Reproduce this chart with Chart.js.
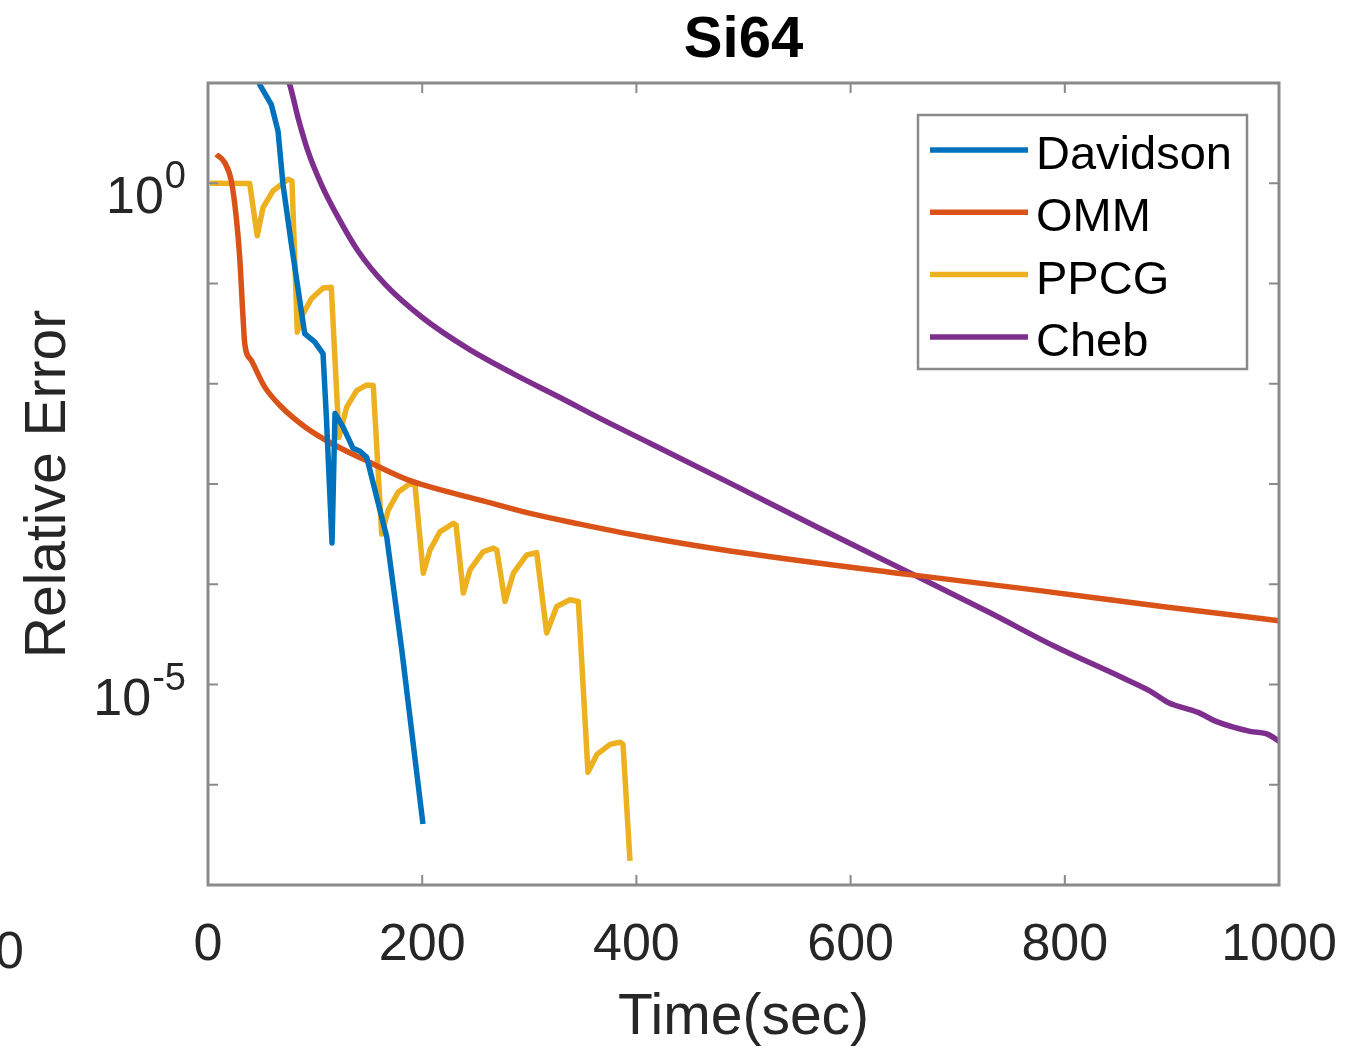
<!DOCTYPE html>
<html>
<head>
<meta charset="utf-8">
<script src="https://cdn.jsdelivr.net/npm/chart.js@4/dist/chart.umd.min.js"></script>
<style>
  html, body { margin: 0; padding: 0; background: #ffffff; }
  #wrap { width: 1358px; height: 1048px; position: relative; }
</style>
</head>
<body>
<div id="wrap"><canvas id="c" width="1358" height="1048"></canvas></div>
<script>
// ---------------- DATA ----------------
const chartTitle = 'Si64';
const xAxisTitle = 'Time(sec)';
const yAxisTitle = 'Relative Error';
const seriesNames = ['Davidson', 'OMM', 'PPCG', 'Cheb'];

const davidsonTime = [44.8, 48.3, 59.1, 65.4, 70.0, 77.8, 90.3, 99.6, 107.4, 110.5, 115.8, 118.6, 126.3, 135.4, 141.9, 148.2, 157.5, 166.9, 180.9, 200.7];
const davidsonErr  = [13.0, 9.64, 6.10, 3.31, 0.977, 0.248, 0.0316, 0.0261, 0.0200, 4.72e-3, 2.58e-4, 5.06e-3, 3.67e-3, 2.27e-3, 2.12e-3, 1.85e-3, 7.39e-4, 2.96e-4, 2.23e-5, 4.06e-7];

const ommTime = [7.7, 15.6, 21.8, 26.4, 29.6, 32.7, 34.3, 40.4, 52.9, 68.4, 90.3, 115.1, 146.3, 186.7, 207.3, 254.0, 300.7, 347.3, 403.4, 487.4, 657.3, 771.2, 892.6, 1000];
const ommErr  = [1.94, 1.607, 1.054, 0.456, 0.1825, 0.0462, 0.0251, 0.01714, 9.31e-3, 5.89e-3, 3.73e-3, 2.55e-3, 1.74e-3, 1.10e-3, 9.35e-4, 6.90e-4, 5.09e-4, 3.98e-4, 3.03e-4, 2.15e-4, 1.24e-4, 8.79e-5, 5.96e-5, 4.33e-5];

const ppcgTime = [1.9, 38.9, 46.0, 51.4, 60.7, 74.7, 78.4, 83.4, 88.7, 96.5, 107.4, 115.1, 122.3, 129.5, 138.8, 148.0, 154.3, 162.2, 168.3, 177.7, 188.6, 193.3, 201.0, 207.3, 216.6, 229.0, 231.6, 238.4, 244.6, 257.0, 266.4, 269.6, 277.3, 285.1, 297.6, 306.9, 316.2, 325.6, 338.0, 345.8, 354.8, 363.2, 375.4, 384.7, 387.5, 394.0];
const ppcgErr  = [1.0, 0.993, 0.299, 0.573, 0.838, 1.096, 1.054, 0.0328, 0.0499, 0.0703, 0.0904, 0.0918, 2.92e-3, 5.84e-3, 8.55e-3, 9.70e-3, 9.59e-3, 3.17e-4, 5.49e-4, 8.34e-4, 1.01e-3, 9.73e-4, 1.29e-4, 2.20e-4, 3.34e-4, 4.05e-4, 3.89e-4, 8.16e-5, 1.39e-4, 2.11e-4, 2.29e-4, 2.20e-4, 6.73e-5, 1.29e-4, 1.96e-4, 2.07e-4, 3.27e-5, 6.00e-5, 7.00e-5, 6.73e-5, 1.33e-6, 2.01e-6, 2.53e-6, 2.65e-6, 2.53e-6, 1.74e-7];

const chebTime = [71.0, 76.3, 84.0, 93.4, 105.8, 121.4, 140.1, 165.0, 199.2, 242.8, 284.8, 328.7, 366.0, 412.7, 487.4, 568.6, 657.3, 730.2, 790.9, 851.5, 880.5, 896.4, 924.4, 941.2, 972.9, 989.7, 1000];
const chebErr  = [13.0, 9.64, 4.53, 2.08, 0.977, 0.459, 0.211, 0.0991, 0.0466, 0.0224, 0.01263, 7.29e-3, 4.51e-3, 2.55e-3, 1.02e-3, 3.72e-4, 1.27e-4, 5.19e-5, 2.39e-5, 1.20e-5, 8.51e-6, 6.62e-6, 5.27e-6, 4.29e-6, 3.41e-6, 3.18e-6, 2.71e-6];

const xTickValues = [0, 200, 400, 600, 800, 1000];
const xTickLabels = ['0', '200', '400', '600', '800', '1000'];
const yTickMarks  = [1e1, 1e0, 1e-1, 1e-2, 1e-3, 1e-4, 1e-5, 1e-6, 1e-7];
const yLabelValues = [1e0, 1e-5];
const yLabelBase   = ['10', '10'];
const yLabelExp    = ['0', '-5'];
const strayLabel = '1000';

// ---------------- STYLE ----------------
const colors = ['#0072BD', '#D95319', '#EDB120', '#7E2F8E'];
const smoothSeries = [false, true, false, true];
const AXIS_COLOR = '#8a8a8a';
const TEXT_COLOR = '#262626';
const FONT = '"Liberation Sans", Arial, Helvetica, sans-serif';

function pairs(xs, ys) { return xs.map((v, i) => ({ x: v, y: ys[i] })); }

const seriesData = [
  pairs(davidsonTime, davidsonErr),
  pairs(ommTime, ommErr),
  pairs(ppcgTime, ppcgErr),
  pairs(chebTime, chebErr)
];

const datasets = seriesNames.map((name, i) => ({
  label: name,
  data: seriesData[i],
  borderColor: colors[i],
  backgroundColor: colors[i],
  borderWidth: 5.5,
  pointRadius: 0,
  tension: 0,
  cubicInterpolationMode: smoothSeries[i] ? 'monotone' : 'default',
  fill: false,
  clip: 0,
  borderJoinStyle: 'round'
}));

function seg(ctx, x1, y1, x2, y2) {
  ctx.beginPath(); ctx.moveTo(x1, y1); ctx.lineTo(x2, y2); ctx.stroke();
}

const matlabAxes = {
  id: 'matlabAxes',
  afterDatasetsDraw(chart) {
    const { ctx, chartArea: a, scales: { x, y } } = chart;
    ctx.save();
    // ticks (inward)
    ctx.strokeStyle = AXIS_COLOR;
    ctx.lineWidth = 2;
    xTickValues.forEach(v => {
      const px = x.getPixelForValue(v);
      seg(ctx, px, a.bottom, px, a.bottom - 10);
      seg(ctx, px, a.top, px, a.top + 10);
    });
    yTickMarks.forEach(v => {
      const py = y.getPixelForValue(v);
      seg(ctx, a.left, py, a.left + 10, py);
      seg(ctx, a.right, py, a.right - 10, py);
    });
    // box
    ctx.lineWidth = 3;
    ctx.strokeRect(a.left, a.top, a.right - a.left, a.bottom - a.top);

    // x tick labels
    ctx.fillStyle = TEXT_COLOR;
    ctx.textBaseline = 'alphabetic';
    ctx.textAlign = 'center';
    ctx.font = '52px ' + FONT;
    xTickValues.forEach((v, i) => {
      ctx.fillText(xTickLabels[i], x.getPixelForValue(v), a.bottom + 75);
    });
    // stray neighbour label at far left
    ctx.textAlign = 'right';
    ctx.fillText(strayLabel, 24, 968);

    // y tick labels with superscripts
    yLabelValues.forEach((v, i) => {
      const py = y.getPixelForValue(v);
      const right = a.left - 22;
      ctx.font = '38px ' + FONT;
      ctx.textAlign = 'right';
      const ew = ctx.measureText(yLabelExp[i]).width;
      ctx.fillText(yLabelExp[i], right, py + 5);
      ctx.font = '52px ' + FONT;
      ctx.fillText(yLabelBase[i], right - ew - 1, py + 30);
    });

    // axis titles
    ctx.textAlign = 'center';
    ctx.font = '57px ' + FONT;
    ctx.fillText(xAxisTitle, (a.left + a.right) / 2, a.bottom + 149);
    ctx.save();
    ctx.translate(65, (a.top + a.bottom) / 2);
    ctx.rotate(-Math.PI / 2);
    ctx.fillText(yAxisTitle, 0, 0);
    ctx.restore();

    // title
    ctx.fillStyle = '#000000';
    ctx.font = 'bold 58px ' + FONT;
    ctx.fillText(chartTitle, (a.left + a.right) / 2, 57);

    // legend
    const bw = 329, bh = 254;
    const bx = a.right - 32 - bw, by = a.top + 32;
    ctx.fillStyle = '#ffffff';
    ctx.fillRect(bx, by, bw, bh);
    ctx.strokeStyle = AXIS_COLOR;
    ctx.lineWidth = 2.5;
    ctx.strokeRect(bx, by, bw, bh);
    ctx.font = '47px ' + FONT;
    ctx.textAlign = 'left';
    chart.data.datasets.forEach((ds, i) => {
      const ly = by + 35 + i * 62.3;
      ctx.strokeStyle = ds.borderColor;
      ctx.lineWidth = 5.5;
      seg(ctx, bx + 12, ly, bx + 110, ly);
      ctx.fillStyle = '#000000';
      ctx.fillText(ds.label, bx + 118, ly + 19);
    });
    ctx.restore();
  }
};

new Chart(document.getElementById('c'), {
  type: 'line',
  data: { datasets },
  options: {
    responsive: false,
    animation: false,
    devicePixelRatio: 1,
    layout: { padding: { left: 208, right: 79, top: 83, bottom: 163 } },
    plugins: { legend: { display: false }, title: { display: false }, tooltip: { enabled: false } },
    scales: {
      x: { type: 'linear', min: 0, max: 1000, display: false },
      y: { type: 'logarithmic', min: 1e-7, max: 10, display: false }
    }
  },
  plugins: [matlabAxes]
});
</script>
</body>
</html>
